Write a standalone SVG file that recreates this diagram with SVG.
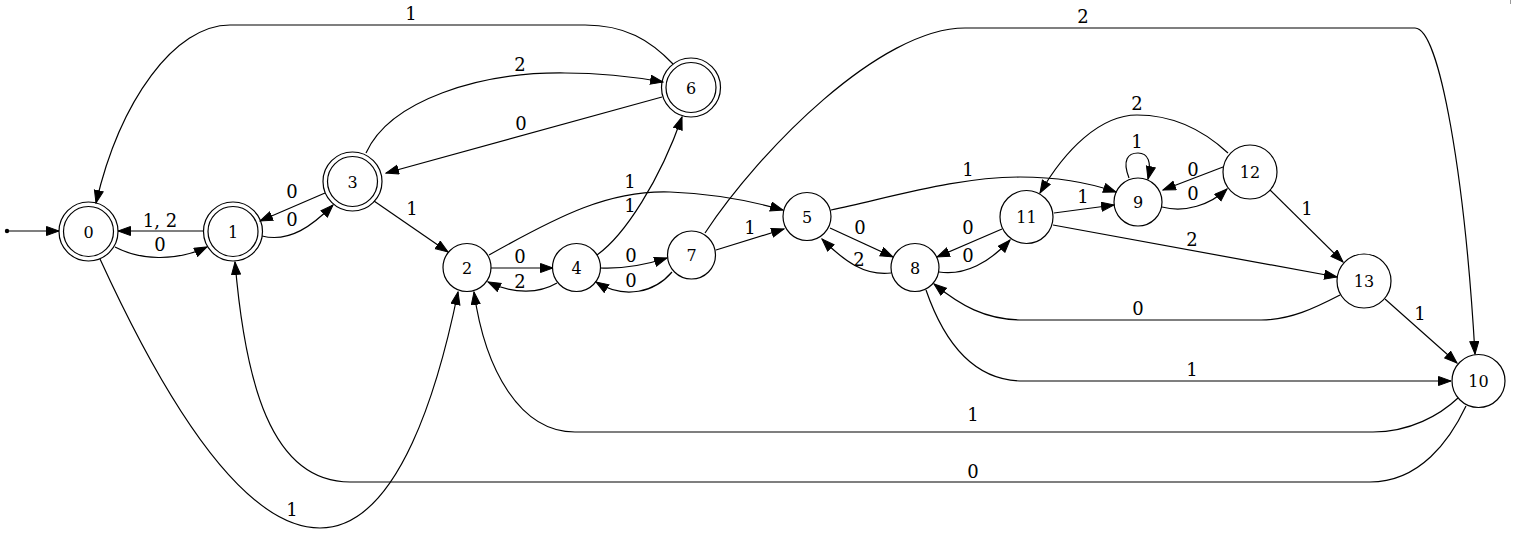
<svg xmlns="http://www.w3.org/2000/svg" width="1522" height="545" viewBox="0 0 1522 545">
<style>
.n circle{fill:none;stroke:#000;stroke-width:1.2}
.n text{font-family:"DejaVu Serif","Liberation Serif",serif;font-size:16px;text-anchor:middle;fill:#000}
#edges path{fill:none;stroke:#000;stroke-width:1.2;marker-end:url(#ah)}
#edges text{font-family:"DejaVu Serif","Liberation Serif",serif;font-size:18px;text-anchor:middle;fill:#000}
</style>
<defs>
<marker id="ah" markerUnits="userSpaceOnUse" markerWidth="14" markerHeight="11" refX="13" refY="5" orient="auto">
<path d="M0.5,0.5 L13,5 L0.5,9.5 z" fill="#000" stroke="#000" stroke-width="1"/>
</marker>
</defs>
<rect width="1522" height="545" fill="#fff"/>
<line x1="1510.5" y1="0" x2="1510.5" y2="4" stroke="#999" stroke-width="1"/>
<g id="edges">
<circle cx="7" cy="231" r="2.2" fill="#000"/>
<path d="M9,231 L59,231"/>
<path d="M115,247 C140,260 175,262 207,247"/>
<text x="160" y="251">0</text>
<path d="M203,231 L118,231"/>
<text x="160" y="227">1, 2</text>
<path d="M262,236 C290,243 313,225 333,205"/>
<text x="292" y="226">0</text>
<path d="M325,193 L260,221"/>
<text x="292" y="198">0</text>
<path d="M366,153 C390,100 480,72 565,73 C600,73 635,77 663,82"/>
<text x="520" y="71">2</text>
<path d="M662,97 L386,173"/>
<text x="521" y="130">0</text>
<path d="M673,64 C650,40 625,25 585,25 L230,25 C175,25 120,100 96,203"/>
<text x="411" y="20">1</text>
<path d="M705,233 C760,150 880,28 965,28 L1415,28 C1440,28 1465,180 1475,354"/>
<text x="1083" y="23">2</text>
<path d="M100,259 C160,390 240,528 320,528 C400,528 440,380 458,292"/>
<text x="292" y="516">1</text>
<path d="M1466,406 C1450,440 1420,482 1370,482 L350,482 C270,482 245,380 235,262"/>
<text x="973" y="478">0</text>
<path d="M1458,398 C1440,415 1410,432 1373,432 L575,432 C520,432 485,370 474,292"/>
<text x="973" y="421">1</text>
<path d="M1340,295 C1315,308 1290,320 1261,320 L1023,320 C985,320 960,305 934,284"/>
<text x="1138" y="315">0</text>
<path d="M926,290 C945,345 975,381 1023,381 L1451,381"/>
<text x="1192" y="376">1</text>
<path d="M1385,299 L1457,363"/>
<text x="1420" y="320">1</text>
<path d="M1270,190 L1343,262"/>
<text x="1307" y="215">1</text>
<path d="M1053,225 L1337,277"/>
<text x="1192" y="246">2</text>
<path d="M1228,153 C1200,127 1170,115 1137,115 C1100,115 1065,150 1040,193"/>
<text x="1137" y="110">2</text>
<path d="M1129,178 C1122,160 1128,153 1138,153 C1148,153 1152,162 1148,179"/>
<text x="1137" y="148">1</text>
<path d="M1223,167 L1163,190"/>
<text x="1193" y="176">0</text>
<path d="M1162,207 C1185,213 1210,205 1227,189"/>
<text x="1193" y="200">0</text>
<path d="M831,210 C900,195 960,177 1020,177 C1060,177 1090,183 1116,192"/>
<text x="968" y="176">1</text>
<path d="M1054,213 L1114,205"/>
<text x="1083" y="203">1</text>
<path d="M830,228 L893,257"/>
<text x="860" y="234">0</text>
<path d="M891,273 C865,276 845,262 822,239"/>
<text x="859" y="266">2</text>
<path d="M1002,229 L937,257"/>
<text x="968" y="234">0</text>
<path d="M939,272 C965,276 990,262 1010,240"/>
<text x="968" y="262">0</text>
<path d="M489,255 C560,215 610,190 670,192 C720,194 755,202 783,210"/>
<text x="630" y="188">1</text>
<path d="M597,255 C625,235 660,180 682,117"/>
<text x="630" y="212">1</text>
<path d="M491,268 L553,268"/>
<text x="520" y="263">0</text>
<path d="M557,283 C540,293 515,295 488,282"/>
<text x="520" y="288">2</text>
<path d="M600,268 C620,269 645,265 667,258"/>
<text x="631" y="262">0</text>
<path d="M672,272 C655,292 625,300 596,282"/>
<text x="631" y="287">0</text>
<path d="M716,250 L784,229"/>
<text x="750" y="234">1</text>
<path d="M374,201 L448,252"/>
<text x="412" y="215">1</text>
</g>
<g id="node0" class="n"><circle cx="88.5" cy="231.5" r="29.5"/><circle cx="88.5" cy="231.5" r="25"/><text x="88.5" y="237.5">0</text></g>
<g id="node1" class="n"><circle cx="233" cy="231.5" r="29.5"/><circle cx="233" cy="231.5" r="25"/><text x="233" y="237.5">1</text></g>
<g id="node3" class="n"><circle cx="352.5" cy="181.5" r="29.5"/><circle cx="352.5" cy="181.5" r="25"/><text x="352.5" y="187.5">3</text></g>
<g id="node6" class="n"><circle cx="691" cy="87.5" r="29.5"/><circle cx="691" cy="87.5" r="25"/><text x="691" y="93.5">6</text></g>
<g id="node2" class="n"><circle cx="467" cy="267.5" r="24"/><text x="467" y="273.5">2</text></g>
<g id="node4" class="n"><circle cx="576.5" cy="267.5" r="24"/><text x="576.5" y="273.5">4</text></g>
<g id="node7" class="n"><circle cx="691.5" cy="255" r="24"/><text x="691.5" y="261">7</text></g>
<g id="node5" class="n"><circle cx="807" cy="216.5" r="24"/><text x="807" y="222.5">5</text></g>
<g id="node8" class="n"><circle cx="915" cy="267.5" r="24"/><text x="915" y="273.5">8</text></g>
<g id="node11" class="n"><circle cx="1026.5" cy="217" r="26.5"/><text x="1026.5" y="223">11</text></g>
<g id="node9" class="n"><circle cx="1138" cy="202" r="24"/><text x="1138" y="208">9</text></g>
<g id="node12" class="n"><circle cx="1250" cy="172" r="27"/><text x="1250" y="178">12</text></g>
<g id="node13" class="n"><circle cx="1364" cy="281" r="27"/><text x="1364" y="287">13</text></g>
<g id="node10" class="n"><circle cx="1478.5" cy="381" r="26.5"/><text x="1478.5" y="387">10</text></g>
</svg>
